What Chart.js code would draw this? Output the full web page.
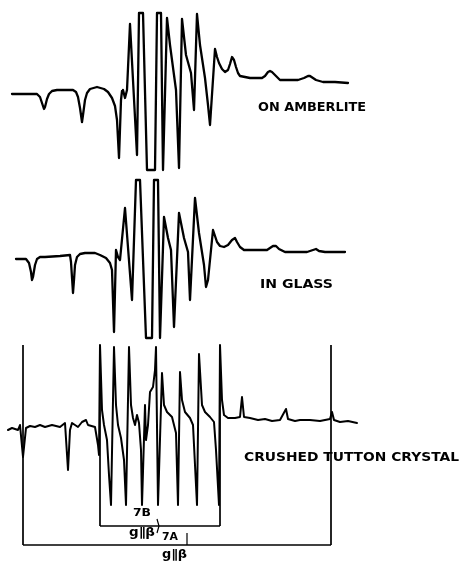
<!DOCTYPE html>
<html><head><meta charset="utf-8">
<script src="https://cdn.jsdelivr.net/npm/chart.js@4.4.0/dist/chart.umd.min.js"></script>
<style>html,body{margin:0;padding:0;background:#fff;overflow:hidden}canvas{display:block}</style>
</head><body>
<canvas id="c" width="461" height="564"></canvas>
<script>
// Recorder readings (field position, pen deflection in chart units, downward positive)
const amberliteField = [12,37,40,42,44,45,47,49,52,57,73,76,78,80,82,83,85,87,90,97,104,108,112,115,117,119,121,122,123,125,127,130,137,139,143,147,155,157,161,163,167,170,174,176,179,182,186,191,194,197,200,205,208,210,215,217,219,222,225,228,230,232,234,236,238,240,245,250,262,265,268,270,272,275,280,298,304,308,310,313,316,323,335,348];
const amberliteSignal = [94,94,97,103,109,107,99,94,91,90,90,92,97,108,122,115,100,93,89,87,89,92,98,106,120,158,100,91,90,98,90,24,155,13,13,170,170,13,13,170,18,45,75,90,168,19,55,73,110,14,45,78,105,125,49,57,63,69,72,70,64,57,60,67,73,76,77,78,78,76,72,71,72,75,80,80,78,76,76,78,80,82,82,83];

const glassField = [16,26,29,31,32,33,35,37,40,45,60,70,71,73,74,75,77,80,85,95,100,106,110,112,114,116,118,120,125,132,136,140,146,152,154,158,160,164,168,171,174,179,184,188,190,195,199,204,206,208,213,215,217,220,224,228,232,235,237,240,244,248,267,270,273,276,279,285,307,313,316,319,325,345];
const glassSignal = [259,259,263,272,280,277,265,259,257,257,256,255,262,293,280,265,257,254,253,253,255,258,263,270,332,250,257,260,208,300,180,180,338,338,180,180,338,217,238,250,327,213,238,252,300,198,233,265,287,280,230,236,242,246,247,245,240,238,242,247,250,250,250,248,246,246,249,252,252,250,249,251,252,252];

const tuttonField = [8,12,18,20,23,26,30,35,40,45,52,56,60,65,68,70,72,78,82,86,88,95,98,99,100,102,104,107,109,111,114,116,118,121,124,126,129,131,133,135,137,139,141,142,145,146,148,150,153,155,156,158,162,164,167,172,176,178,180,182,185,190,193,197,199,202,205,210,214,216,219,220,222,224,228,235,240,242,244,250,258,265,272,280,286,288,295,300,310,320,330,332,334,340,348,357];
const tuttonSignal = [430,428,430,425,457,428,426,427,425,427,425,426,427,423,470,430,423,427,422,420,425,427,445,455,345,410,425,440,475,505,347,405,425,438,460,505,347,405,418,425,415,423,450,505,405,440,425,392,387,370,347,505,373,405,412,417,433,505,372,400,412,418,425,505,354,405,412,417,422,450,505,345,400,415,418,418,417,397,417,418,420,419,421,420,409,419,421,420,420,421,419,412,420,422,421,423];

const traceLabels = ['ON AMBERLITE', 'IN GLASS', 'CRUSHED TUTTON CRYSTAL'];
// Hyperfine spread markers (field positions)
const splitting7A = [23, 331];
const splitting7B = [100, 220];
const fractionLabels = ['7B', 'g\u2225\u03B2', '7A', 'g\u2225\u03B2'];

function pts(xs, ys){ return xs.map((x,i)=>({x:x, y:ys[i]})); }
const traceStyle = {borderColor:'#000', borderWidth:2.3, pointRadius:0, tension:0, borderJoinStyle:'round', borderCapStyle:'round', clip:false, fill:false};
const markStyle = {borderColor:'#000', borderWidth:1.7, pointRadius:0, tension:0, clip:false, fill:false};

const markTop = 345, innerBar = 526, outerBar = 545;
const datasets = [
  Object.assign({data: pts(amberliteField, amberliteSignal)}, traceStyle),
  Object.assign({data: pts(glassField, glassSignal)}, traceStyle),
  Object.assign({data: pts(tuttonField, tuttonSignal)}, traceStyle, {borderWidth:2}),
  Object.assign({data: [{x:splitting7A[0], y:markTop},{x:splitting7A[0], y:outerBar}]}, markStyle),
  Object.assign({data: [{x:splitting7A[1], y:markTop},{x:splitting7A[1], y:outerBar}]}, markStyle),
  Object.assign({data: [{x:splitting7B[0], y:markTop},{x:splitting7B[0], y:innerBar}]}, markStyle),
  Object.assign({data: [{x:splitting7B[1], y:markTop},{x:splitting7B[1], y:innerBar}]}, markStyle),
  Object.assign({data: [{x:splitting7A[0], y:outerBar},{x:splitting7A[1], y:outerBar}]}, markStyle),
  Object.assign({data: [{x:splitting7B[0], y:innerBar},{x:splitting7B[1], y:innerBar}]}, markStyle),
  Object.assign({data: [{x:157, y:519},{x:159, y:526},{x:157, y:533}]}, markStyle, {borderWidth:1.2}),
  Object.assign({data: [{x:187, y:533},{x:187, y:545}]}, markStyle, {borderWidth:1.2})
];

const textItems = [
  {text: traceLabels[0], x0:258, x1:366, y:108, size:12},
  {text: traceLabels[1], x0:260, x1:333, y:285, size:12},
  {text: traceLabels[2], x0:244, x1:459, y:458, size:12},
  {text: fractionLabels[0], x0:133, x1:151, y:513, size:11},
  {text: fractionLabels[1], x0:129, x1:155, y:533, size:12},
  {text: fractionLabels[2], x0:162, x1:178, y:537, size:11},
  {text: fractionLabels[3], x0:162, x1:187, y:555, size:12}
];

const annot = {
  id: 'annot',
  afterDatasetsDraw(chart){
    const ctx = chart.ctx, sx = chart.scales.x, sy = chart.scales.y;
    ctx.save();
    ctx.fillStyle = '#000';
    ctx.textBaseline = 'middle';
    ctx.textAlign = 'left';
    for (const t of textItems){
      ctx.font = 'bold ' + t.size + 'px "DejaVu Sans"';
      const w = ctx.measureText(t.text).width;
      const px0 = sx.getPixelForValue(t.x0), px1 = sx.getPixelForValue(t.x1);
      const py = sy.getPixelForValue(t.y);
      const k = (px1 - px0) / w;
      ctx.save();
      ctx.translate(px0, py);
      ctx.scale(k, 1);
      ctx.fillText(t.text, 0, 0);
      ctx.restore();
    }
    ctx.restore();
  }
};

new Chart(document.getElementById('c'), {
  type: 'line',
  data: {datasets: datasets},
  options: {
    responsive: false,
    animation: false,
    devicePixelRatio: 1,
    layout: {padding: 0},
    plugins: {legend: {display:false}, tooltip: {enabled:false}, title: {display:false}},
    scales: {
      x: {type:'linear', min:0, max:461, display:false},
      y: {type:'linear', min:0, max:564, reverse:true, display:false}
    },
    elements: {point: {radius:0}}
  },
  plugins: [annot]
});
</script>
</body></html>
